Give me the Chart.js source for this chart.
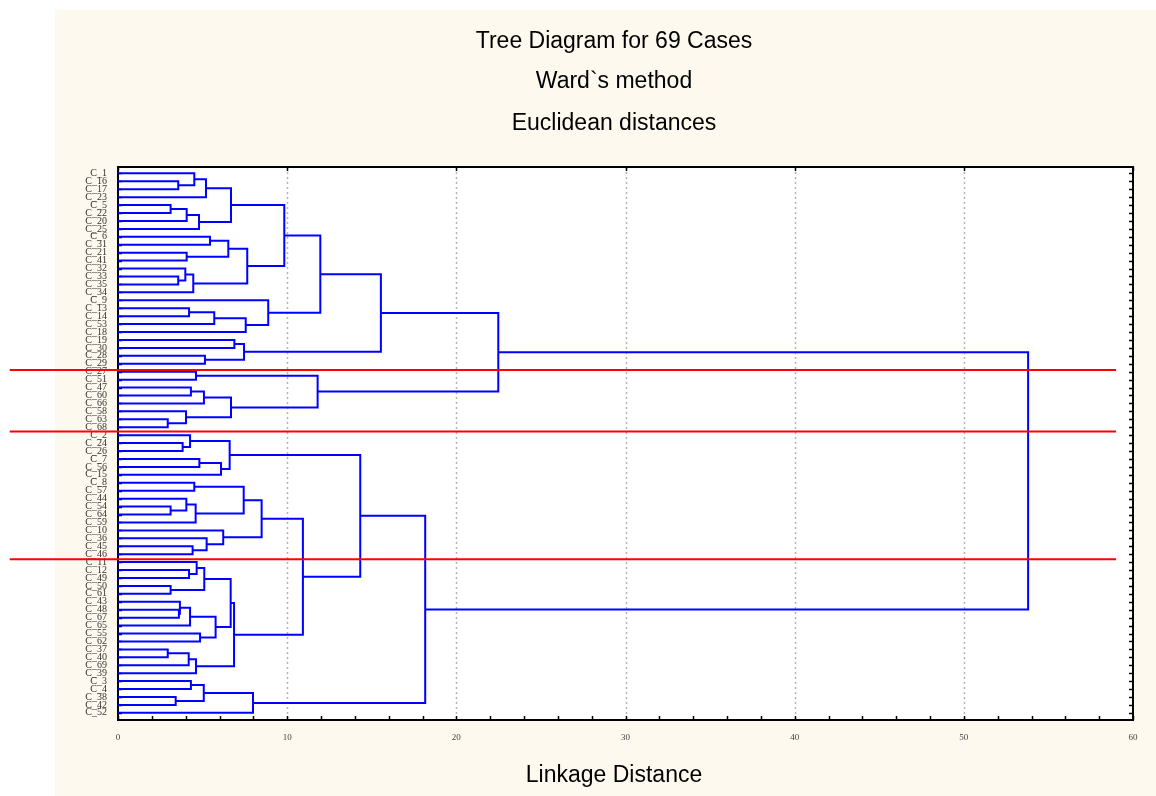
<!DOCTYPE html>
<html><head><meta charset="utf-8">
<script src="https://cdn.jsdelivr.net/npm/chart.js@4.4.1/dist/chart.umd.min.js"></script>
<style>html,body{margin:0;padding:0;background:#fff}#wrap{width:1156px;height:796px;position:relative}</style>
</head><body><div id="wrap"><canvas id="c"></canvas></div>
<script>
// ---- data ----
const leafLabels = ["C_1","C_16","C_17","C_23","C_5","C_22","C_20","C_25","C_6","C_31","C_21","C_41","C_32","C_33","C_35","C_34","C_9","C_13","C_14","C_53","C_18","C_19","C_30","C_28","C_29","C_27","C_51","C_47","C_60","C_66","C_58","C_63","C_68","C_2","C_24","C_26","C_7","C_56","C_15","C_8","C_57","C_44","C_54","C_64","C_59","C_10","C_36","C_45","C_46","C_11","C_12","C_49","C_50","C_61","C_43","C_48","C_67","C_65","C_55","C_62","C_37","C_40","C_69","C_39","C_3","C_4","C_38","C_42","C_52"];
// linkage: node ids < 69 are leaves (by row), >= 69 are earlier merges (69 + merge index)
const linkLeft  = [1,0,70,4,72,73,71,8,10,76,13,12,80,78,75,17,84,85,16,83,21,23,89,88,25,27,94,31,30,95,93,92,34,33,36,103,102,39,42,41,108,106,47,46,45,110,50,49,52,116,55,54,120,58,121,118,60,125,126,124,114,105,64,66,131,133,130,100];
const linkRight = [2,69,3,5,6,7,74,9,11,77,14,79,15,81,82,18,19,20,86,87,22,24,90,91,26,28,29,32,96,97,98,99,35,101,37,38,104,40,43,107,44,109,48,111,112,113,51,115,53,117,56,119,57,59,122,123,61,62,63,127,128,129,65,67,132,68,134,135];
const linkHeight = [3.56,4.51,5.20,3.11,4.06,4.79,6.68,5.44,4.06,6.52,3.56,3.98,4.45,7.64,9.83,4.20,5.69,7.55,8.88,11.96,6.88,5.14,7.45,15.54,4.61,4.31,5.08,2.94,4.02,6.68,11.80,22.48,3.82,4.26,4.81,6.09,6.60,4.51,3.11,4.04,4.59,7.43,4.41,5.24,6.22,8.49,4.20,4.65,3.11,5.10,3.60,3.66,4.26,4.85,5.77,6.66,2.94,4.18,4.61,6.86,10.93,14.32,4.31,3.41,5.07,7.98,18.16,53.80];
const xTickValues = [0,10,20,30,40,50,60];
const cutRows = [24.8, 32.55, 48.65];      // red cut lines, in leaf-row units
const cutFrom = -6.4, cutTo = 59;          // red line extent, linkage units
const titleLines = ["Tree Diagram for 69 Cases","Ward`s method","Euclidean distances"];
const xAxisTitle = "Linkage Distance";

// ---- build dendrogram segments from linkage ----
const BLUE = '#0000ff', RED = '#ff0000', CREAM = '#fdf9ee';
const nodeX = [], nodeY = [];
leafLabels.forEach((_, i) => { nodeX.push(0); nodeY.push(i); });
const datasets = [];
cutRows.forEach(r => datasets.push({
  data: [{x: cutFrom, y: r}, {x: cutTo, y: r}],
  showLine: true, borderColor: RED, borderWidth: 2, pointRadius: 0, clip: false, order: 0
}));
for (let k = 0; k < linkHeight.length; k++) {
  const a = linkLeft[k], b = linkRight[k], h = linkHeight[k];
  datasets.push({
    data: [{x: nodeX[a], y: nodeY[a]}, {x: h, y: nodeY[a]}, {x: h, y: nodeY[b]}, {x: nodeX[b], y: nodeY[b]}],
    showLine: true, borderColor: BLUE, borderWidth: 2, pointRadius: 0, tension: 0,
    borderJoinStyle: 'miter', clip: 4, order: 1
  });
  nodeX.push(h); nodeY.push((nodeY[a] + nodeY[b]) / 2);
}

const deco = {
  id: 'deco',
  beforeDraw(chart) {
    const ctx = chart.ctx, a = chart.chartArea;
    ctx.save();
    ctx.fillStyle = '#fff'; ctx.fillRect(0, 0, chart.width, chart.height);
    ctx.fillStyle = CREAM; ctx.fillRect(55, 10, chart.width - 55, chart.height - 10);
    ctx.fillStyle = '#fff'; ctx.fillRect(a.left, a.top, a.right - a.left, a.bottom - a.top);
    ctx.restore();
  },
  beforeDatasetsDraw(chart) {
    const ctx = chart.ctx, a = chart.chartArea, xs = chart.scales.x, ys = chart.scales.y;
    ctx.save();
    // dotted grid
    ctx.strokeStyle = '#b4b4b4'; ctx.lineWidth = 1.5; ctx.setLineDash([2, 3]);
    xTickValues.slice(1, -1).forEach(v => {
      const px = Math.round(xs.getPixelForValue(v)) + 0.5;
      ctx.beginPath(); ctx.moveTo(px, a.top); ctx.lineTo(px, a.bottom); ctx.stroke();
    });
    ctx.setLineDash([]);
    // frame
    ctx.strokeStyle = '#000'; ctx.lineWidth = 2;
    ctx.strokeRect(a.left, a.top, a.right - a.left, a.bottom - a.top);
    // inward ticks
    ctx.lineWidth = 1.5;
    ctx.beginPath();
    leafLabels.forEach((_, i) => {
      const py = Math.round(ys.getPixelForValue(i)) + 0.5;
      ctx.moveTo(a.left, py); ctx.lineTo(a.left + 4, py);
      ctx.moveTo(a.right, py); ctx.lineTo(a.right - 4, py);
    });
    for (let v = 0; v <= 60; v += 2) {
      const px = Math.round(xs.getPixelForValue(v)) + 0.5;
      ctx.moveTo(px, a.bottom); ctx.lineTo(px, a.bottom - 4);
    }
    xTickValues.forEach(v => {
      const px = Math.round(xs.getPixelForValue(v)) + 0.5;
      ctx.moveTo(px, a.top); ctx.lineTo(px, a.top + 4);
    });
    ctx.stroke();
    ctx.restore();
  },
  afterDraw(chart) {
    const ctx = chart.ctx;
    ctx.save();
    ctx.fillStyle = '#000';
    ctx.font = '23px "Liberation Sans", Arial, sans-serif';
    ctx.textAlign = 'center'; ctx.textBaseline = 'alphabetic';
    const ty = [48, 88, 130];
    titleLines.forEach((t, i) => ctx.fillText(t, 614, ty[i]));
    ctx.fillText(xAxisTitle, 614, 782);
    ctx.restore();
  }
};

new Chart(document.getElementById('c'), {
  type: 'scatter',
  data: { datasets },
  plugins: [deco],
  options: {
    responsive: true, maintainAspectRatio: false, animation: false,
    layout: { padding: { left: 0, right: 23, top: 167, bottom: 0 } },
    plugins: { legend: { display: false }, tooltip: { enabled: false }, title: { display: false } },
    events: [],
    scales: {
      x: {
        type: 'linear', min: 0, max: 60,
        afterBuildTicks: s => { s.ticks = xTickValues.map(v => ({ value: v })); },
        afterFit: s => { s.height = 76; },
        grid: { display: false, drawTicks: false }, border: { display: false },
        ticks: { autoSkip: false, maxRotation: 0, padding: 12, color: '#444',
                 font: { family: '"Liberation Serif", serif', size: 9 } }
      },
      y: {
        type: 'linear', reverse: true, min: -0.8, max: 68.9,
        afterBuildTicks: s => { s.ticks = leafLabels.map((_, i) => ({ value: i })); },
        afterFit: s => { s.width = 118; },
        grid: { display: false, drawTicks: false }, border: { display: false },
        ticks: { autoSkip: false, padding: 11, color: '#333',
                 font: { family: '"Liberation Serif", serif', size: 10 },
                 callback: v => leafLabels[Math.round(v)] }
      }
    }
  }
});
</script></body></html>
